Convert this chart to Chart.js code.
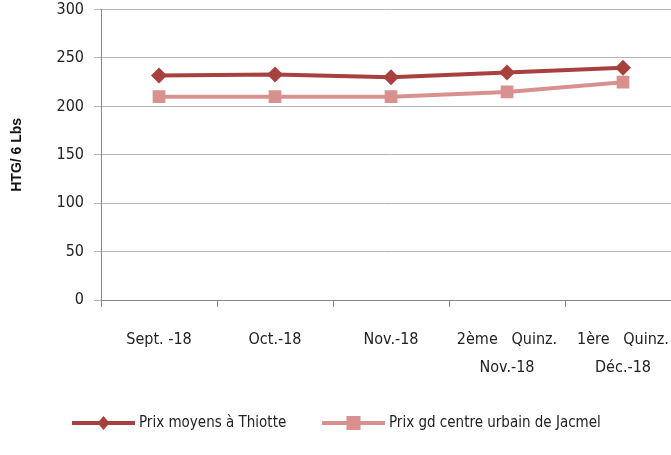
<!DOCTYPE html>
<html><head><meta charset="utf-8">
<script src="https://cdn.jsdelivr.net/npm/chart.js@4/dist/chart.umd.min.js"></script>
<style>
html,body{margin:0;padding:0;background:#fff;overflow:hidden;}
#wrap{width:671px;height:455px;overflow:hidden;position:relative;}
#box{width:690px;height:465px;position:absolute;left:0;top:-10px;}
</style></head><body>
<div id="wrap"><div id="box"><canvas id="c" width="690" height="465"></canvas></div></div>
<script>
const categories = [["Sept. -18"], ["Oct.-18"], ["Nov.-18"], ["2ème   Quinz.", "Nov.-18"], ["1ère   Quinz.", "Déc.-18"]];
const thiotte = [232, 233, 230, 235, 240];
const jacmel = [210, 210, 210, 215, 225];
const seriesNames = ["Prix moyens à Thiotte", "Prix gd centre urbain de Jacmel"];
const yTicks = [0, 50, 100, 150, 200, 250, 300];
const yTitle = "HTG/ 6 Lbs";

const FONT = "'Liberation Sans Narrow','DejaVu Sans Condensed','Liberation Sans',sans-serif";
const C1 = '#A8403D', C2 = '#D9918F';

const legendPlugin = {
  id: 'customLegend',
  afterDraw(chart) {
    const ctx = chart.ctx;
    const items = [{x: 72}, {x: 322}];
    ctx.save();
    chart.data.datasets.forEach((ds, i) => {
      const x0 = items[i].x, y = 433, len = 63;
      ctx.strokeStyle = ds.borderColor; ctx.lineWidth = 4;
      ctx.beginPath(); ctx.moveTo(x0, y); ctx.lineTo(x0 + len, y); ctx.stroke();
      ctx.fillStyle = ds.pointBackgroundColor;
      const cx = x0 + len / 2;
      if (ds.pointStyle === 'rectRot') {
        ctx.beginPath(); ctx.moveTo(cx, y - 7); ctx.lineTo(cx + 6, y); ctx.lineTo(cx, y + 7); ctx.lineTo(cx - 6, y); ctx.closePath(); ctx.fill();
      } else {
        ctx.fillRect(cx - 7, y - 7, 14, 14);
      }
      ctx.fillStyle = '#222'; ctx.font = '15px ' + FONT; ctx.textBaseline = 'middle'; ctx.textAlign = 'left';
      ctx.fillText(ds.label, x0 + len + 4, y);
    });
    ctx.restore();
  }
};

new Chart(document.getElementById('c'), {
  type: 'line',
  data: {
    labels: categories,
    datasets: [
      {label: seriesNames[0], data: thiotte, borderColor: C1, backgroundColor: C1, pointBackgroundColor: C1, pointBorderColor: C1,
       borderWidth: 4, pointStyle: 'rectRot', pointRadius: 8, pointBorderWidth: 0, tension: 0},
      {label: seriesNames[1], data: jacmel, borderColor: C2, backgroundColor: C2, pointBackgroundColor: C2, pointBorderColor: C2,
       borderWidth: 4, pointStyle: 'rect', pointRadius: 9, pointBorderWidth: 0, tension: 0}
    ]
  },
  options: {
    responsive: false, animation: false,
    layout: {padding: {top: 0, right: 9, left: 0, bottom: 0}},
    plugins: {legend: {display: false}, tooltip: {enabled: false}},
    scales: {
      x: {
        offset: true,
        grid: {display: true, drawOnChartArea: false, offset: true, tickLength: 7, color: '#868686', lineWidth: 1},
        border: {color: '#868686', width: 1},
        ticks: {color: '#222', font: {family: FONT, size: 16, lineHeight: 1.75}, padding: 19, maxRotation: 0, autoSkip: false},
        afterFit(s) { s.height = 155; }
      },
      y: {
        min: 0, max: 300,
        afterBuildTicks(s) { s.ticks = yTicks.map(v => ({value: v})); },
        grid: {color: '#b5b5b5', lineWidth: 1, tickLength: 7, drawTicks: true},
        border: {color: '#868686', width: 1},
        ticks: {color: '#222', font: {family: FONT, size: 16}, padding: 10},
        title: {display: true, text: yTitle, color: '#111', font: {family: "'Liberation Sans','DejaVu Sans',sans-serif", size: 14, weight: 'bold'}, padding: {top: 9, bottom: 0}},
        afterFit(s) { s.width = 101; }
      }
    }
  },
  plugins: [legendPlugin]
});
</script>
</body></html>
